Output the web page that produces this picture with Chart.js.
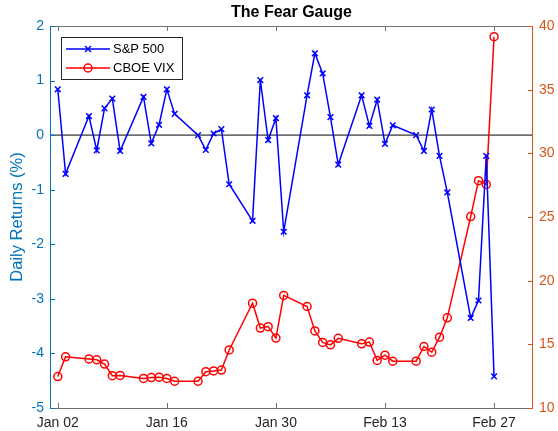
<!DOCTYPE html>
<html>
<head>
<meta charset="utf-8">
<script src="https://cdn.jsdelivr.net/npm/chart.js@4"></script>
<style>
  html, body { margin: 0; padding: 0; background: #fff; }
  #wrap { width: 558px; height: 431px; }
</style>
</head>
<body>
<div id="wrap"><canvas id="chart" width="558" height="431"></canvas></div>
<script>
// trading days (plus the two market holidays that the source data carries)
const dates = [
  "2020-01-02", "2020-01-03", "2020-01-06", "2020-01-07", "2020-01-08", "2020-01-09", "2020-01-10",
  "2020-01-13", "2020-01-14", "2020-01-15", "2020-01-16", "2020-01-17", "2020-01-20",
  "2020-01-21", "2020-01-22", "2020-01-23", "2020-01-24",
  "2020-01-27", "2020-01-28", "2020-01-29", "2020-01-30", "2020-01-31",
  "2020-02-03", "2020-02-04", "2020-02-05", "2020-02-06", "2020-02-07",
  "2020-02-10", "2020-02-11", "2020-02-12", "2020-02-13", "2020-02-14", "2020-02-17",
  "2020-02-18", "2020-02-19", "2020-02-20", "2020-02-21",
  "2020-02-24", "2020-02-25", "2020-02-26", "2020-02-27"
];

// S&P 500 daily returns (%)
const spxReturns = [
  0.84, -0.71, 0.35, -0.28, 0.49, 0.67, -0.29,
  0.70, -0.15, 0.19, 0.84, 0.39, 0.00,
  -0.27, 0.03, 0.11, -0.90,
  -1.57, 1.01, -0.09, 0.31, -1.77,
  0.73, 1.50, 1.13, 0.33, -0.54,
  0.73, 0.17, 0.65, -0.16, 0.18, 0.00,
  -0.29, 0.47, -0.38, -1.05,
  -3.35, -3.03, -0.38, -4.42
];

// CBOE VIX close
const vixClose = [
  12.47, 14.02, 13.85, 13.79, 13.45, 12.54, 12.56,
  12.32, 12.39, 12.42, 12.32, 12.10, 12.10,
  12.85, 12.91, 12.98, 14.56,
  18.23, 16.28, 16.39, 15.49, 18.84,
  17.97, 16.05, 15.15, 14.96, 15.47,
  15.04, 15.18, 13.74, 14.15, 13.68, 13.68,
  14.83, 14.38, 15.56, 17.08,
  25.03, 27.85, 27.56, 39.16
];

const tickDates = ["2020-01-02", "2020-01-16", "2020-01-30", "2020-02-13", "2020-02-27"];
const tickLabels = ["Jan 02", "Jan 16", "Jan 30", "Feb 13", "Feb 27"];
const leftTicks = [-5, -4, -3, -2, -1, 0, 1, 2];
const rightTicks = [10, 15, 20, 25, 30, 35, 40];

const BLUE_AXIS = "#0072BD";
const ORANGE_AXIS = "#D95319";
const GREY = "#6f6f6f";
const FONT = "'Liberation Sans', Arial, Helvetica, sans-serif";

// days since Jan 01 2020, so the x axis keeps calendar spacing
const dayOf = (s) =>
  (Date.UTC(+s.slice(0, 4), +s.slice(5, 7) - 1, +s.slice(8, 10)) - Date.UTC(2020, 0, 1)) / 86400000;

const tickDays = tickDates.map(dayOf);

const frame = {
  id: "frame",
  beforeDatasetsDraw(chart) {
    const { ctx, chartArea: a } = chart;
    const y0 = chart.scales.y.getPixelForValue(0);
    ctx.save();
    ctx.strokeStyle = GREY;
    ctx.lineWidth = 1.6;
    ctx.beginPath();
    ctx.moveTo(a.left, y0);
    ctx.lineTo(a.right, y0);
    ctx.stroke();
    ctx.restore();
  },
  afterDraw(chart) {
    const { ctx, chartArea: a, scales } = chart;
    ctx.save();
    ctx.lineWidth = 1;

    // top and bottom box lines with inward ticks
    ctx.strokeStyle = GREY;
    ctx.beginPath();
    ctx.moveTo(a.left, a.top + 0.5); ctx.lineTo(a.right, a.top + 0.5);
    ctx.moveTo(a.left, a.bottom + 0.5); ctx.lineTo(a.right, a.bottom + 0.5);
    tickDays.forEach((d) => {
      const px = Math.round(scales.x.getPixelForValue(d)) + 0.5;
      ctx.moveTo(px, a.bottom); ctx.lineTo(px, a.bottom - 5);
      ctx.moveTo(px, a.top); ctx.lineTo(px, a.top + 5);
    });
    ctx.stroke();

    // left axis
    ctx.strokeStyle = BLUE_AXIS;
    ctx.beginPath();
    ctx.moveTo(a.left + 0.5, a.top); ctx.lineTo(a.left + 0.5, a.bottom + 1);
    leftTicks.forEach((v) => {
      const py = Math.round(scales.y.getPixelForValue(v)) + 0.5;
      ctx.moveTo(a.left, py); ctx.lineTo(a.left + 5, py);
    });
    ctx.stroke();

    // right axis
    ctx.strokeStyle = ORANGE_AXIS;
    ctx.beginPath();
    ctx.moveTo(a.right - 0.5, a.top); ctx.lineTo(a.right - 0.5, a.bottom + 1);
    rightTicks.forEach((v) => {
      const py = Math.round(scales.y1.getPixelForValue(v)) + 0.5;
      ctx.moveTo(a.right, py); ctx.lineTo(a.right - 5, py);
    });
    ctx.stroke();

    // title
    ctx.fillStyle = "#000";
    ctx.font = "bold 16px " + FONT;
    ctx.textAlign = "center";
    ctx.textBaseline = "middle";
    ctx.fillText("The Fear Gauge", (a.left + a.right) / 2, 13);

    // left axis title
    ctx.save();
    ctx.translate(17, (a.top + a.bottom) / 2);
    ctx.rotate(-Math.PI / 2);
    ctx.fillStyle = BLUE_AXIS;
    ctx.font = "16.5px " + FONT;
    ctx.fillText("Daily Returns (%)", 0, 0);
    ctx.restore();

    // legend box, MATLAB style: line sample with the marker on it
    const lx = 61, ly = 37, lw = 121, lh = 42;
    ctx.fillStyle = "#fff";
    ctx.fillRect(lx, ly, lw, lh);
    ctx.strokeStyle = "#262626";
    ctx.strokeRect(lx + 0.5, ly + 0.5, lw, lh);
    const rows = [
      { label: "S&P 500", color: "#0000FF", marker: "x", y: 49 },
      { label: "CBOE VIX", color: "#FF0000", marker: "o", y: 68 }
    ];
    ctx.font = "13px " + FONT;
    ctx.textAlign = "left";
    rows.forEach((r) => {
      ctx.strokeStyle = r.color;
      ctx.lineWidth = 1.5;
      ctx.beginPath();
      ctx.moveTo(66, r.y); ctx.lineTo(110, r.y);
      ctx.stroke();
      ctx.beginPath();
      if (r.marker === "x") {
        ctx.moveTo(85, r.y - 3); ctx.lineTo(91, r.y + 3);
        ctx.moveTo(85, r.y + 3); ctx.lineTo(91, r.y - 3);
      } else {
        ctx.arc(88, r.y, 4, 0, Math.PI * 2);
      }
      ctx.stroke();
      ctx.fillStyle = "#000";
      ctx.fillText(r.label, 113, r.y + 0.5);
    });
    ctx.restore();
  }
};

new Chart(document.getElementById("chart"), {
  type: "line",
  data: {
    datasets: [
      {
        label: "S&P 500",
        data: dates.map((d, i) => ({ x: dayOf(d), y: spxReturns[i] })),
        yAxisID: "y",
        borderColor: "#0000FF",
        backgroundColor: "#0000FF",
        borderWidth: 1.5,
        pointStyle: "crossRot",
        pointRadius: 4,
        pointBorderWidth: 1.5,
        tension: 0
      },
      {
        label: "CBOE VIX",
        data: dates.map((d, i) => ({ x: dayOf(d), y: vixClose[i] })),
        yAxisID: "y1",
        borderColor: "#FF0000",
        backgroundColor: "rgba(0,0,0,0)",
        borderWidth: 1.5,
        pointStyle: "circle",
        pointRadius: 4,
        pointBorderWidth: 1.5,
        tension: 0
      }
    ]
  },
  options: {
    responsive: false,
    animation: false,
    layout: { padding: { top: 26, left: 0, right: 0, bottom: 0 } },
    plugins: { legend: { display: false }, title: { display: false }, tooltip: { enabled: false } },
    scales: {
      x: {
        type: "linear",
        min: dayOf("2020-01-01"),
        max: dayOf("2020-03-03"),
        grid: { display: false, drawTicks: false },
        border: { display: false },
        afterBuildTicks: (scale) => { scale.ticks = tickDays.map((v) => ({ value: v })); },
        afterFit: (scale) => { scale.height = 23; },
        ticks: {
          autoSkip: false,
          maxRotation: 0,
          padding: 7,
          color: "#262626",
          font: { family: FONT, size: 14 },
          callback: (v, i) => tickLabels[i]
        }
      },
      y: {
        position: "left",
        min: -5,
        max: 2,
        grid: { display: false, drawTicks: false },
        border: { display: false },
        afterFit: (scale) => { scale.width = 50; },
        ticks: {
          stepSize: 1,
          padding: 6,
          color: BLUE_AXIS,
          font: { family: FONT, size: 14 }
        }
      },
      y1: {
        position: "right",
        min: 10,
        max: 40,
        grid: { display: false, drawTicks: false },
        border: { display: false },
        afterFit: (scale) => { scale.width = 25; },
        ticks: {
          stepSize: 5,
          padding: 6,
          color: ORANGE_AXIS,
          font: { family: FONT, size: 14 }
        }
      }
    }
  },
  plugins: [frame]
});
</script>
</body>
</html>
